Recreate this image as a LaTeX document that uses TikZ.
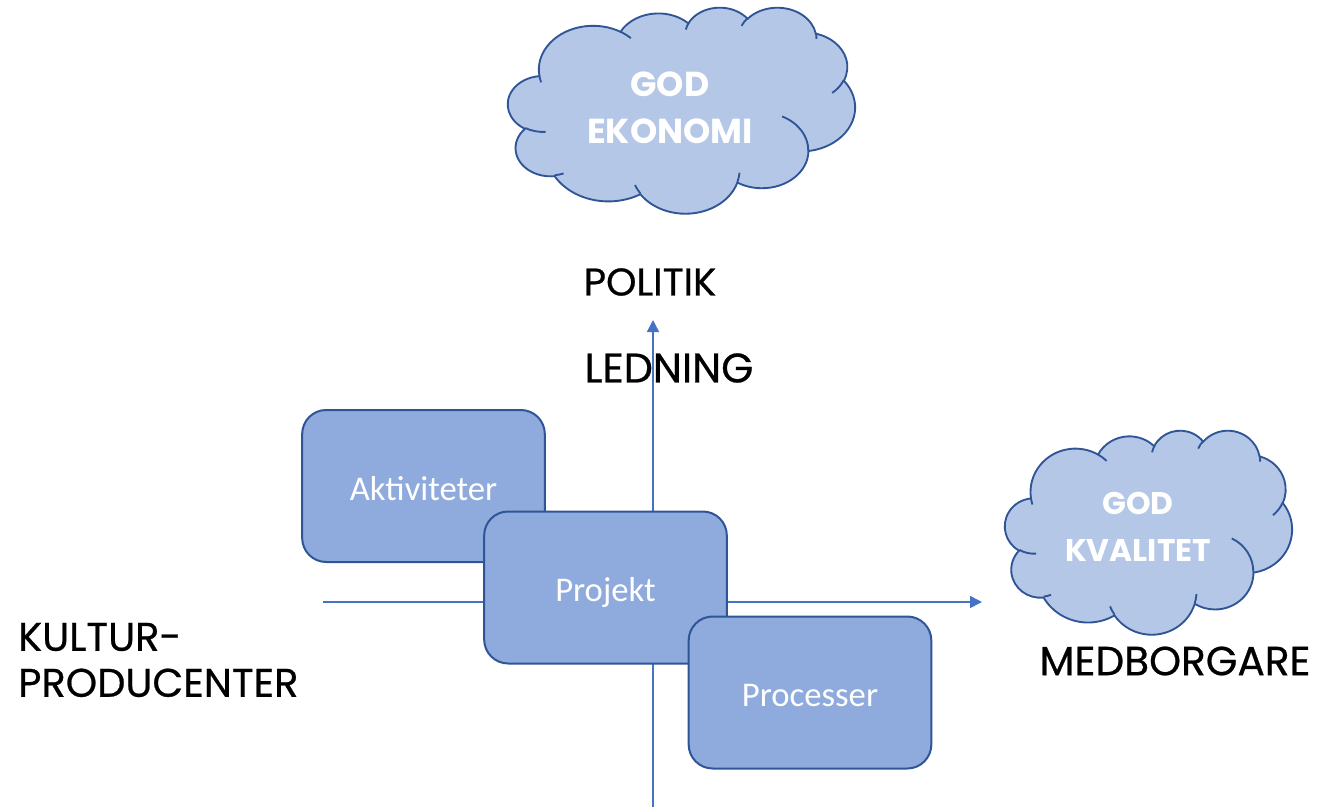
\documentclass[tikz,border=0pt]{standalone}
\usepackage{fontspec}
\newfontfamily\labelfont[FakeBold=0.6]{Poppins}
\newfontfamily\cloudfont{Poppins}
\newfontfamily\boxfont{Carlito}
\usetikzlibrary{arrows.meta}

\definecolor{cloudfill}{HTML}{B4C7E7}
\definecolor{boxfill}{HTML}{8FAADC}
\definecolor{edgeblue}{HTML}{2F5597}
\definecolor{axisblue}{HTML}{4472C4}

% one puff of the cloud: x radius, y radius, start and sweep angle (seen on the ellipse)
\newcommand\puff[4]{\pgfextra{%
  \pgfmathsetmacro\puffa{atan2(sin(#3)*#1,cos(#3)*#2)}%
  \pgfmathsetmacro\puffb{atan2(sin(#3+#4)*#1,cos(#3+#4)*#2)}%
  \pgfmathsetmacro\puffb{\puffb+(#4>0)*(\puffb<\puffa)*360-(#4<0)*(\puffb>\puffa)*360}}
  arc[start angle=\puffa, end angle=\puffb, x radius=#1, y radius=#2]}

\newcommand\cloudoutline{(39.00,143.70)
  \puff{67.53}{91.90}{-190.4875}{123.7805} \puff{53.33}{72.67}{-144.1024}{89.9452}
  \puff{43.65}{59.45}{-145.8079}{99.7230} \puff{48.57}{65.95}{-130.9861}{117.2417}
  \puff{53.33}{72.73}{-78.7089}{109.0269} \puff{67.75}{92.20}{-46.2673}{130.2690}
  \puff{57.85}{78.67}{0.6250}{114.0333} \puff{67.52}{92.15}{22.4516}{115.1726}
  \puff{77.20}{105.43}{66.2426}{75.7110} \puff{43.60}{59.18}{-274.9421}{146.7356}
  \puff{43.45}{59.45}{-246.8285}{152.5189} -- cycle}

\newcommand\cloudcreases{%
  (46.93,261.77) \puff{43.45}{59.45}{86.7420}{26.4295}
  (69.28,348.99) \puff{43.60}{59.18}{73.6105}{11.4475}
  (164.78,390.90) \puff{67.52}{92.15}{137.6242}{14.0811}
  (288.27,347.51) \puff{67.52}{92.15}{6.4533}{15.9984}
  (341.29,229.54) \puff{57.85}{78.67}{-70.2924}{70.9174}
  (417.98,153.54) \puff{53.33}{72.73}{30.3180}{27.7515}
  (383.24,54.26) \puff{48.57}{65.95}{-13.7443}{14.8589}
  (290.78,39.52) \puff{48.57}{65.95}{-149.1815}{18.1954}
  (221.41,47.20) \puff{43.65}{59.45}{-163.4943}{17.6864}
  (140.00,51.92) \puff{67.53}{91.90}{-66.7070}{12.3194}
  (41.27,157.89) \puff{67.53}{91.90}{157.6544}{11.8582}}

% cloud in the frame at (#1,#2), units #3 and #4 per 1/432 of the frame
\newcommand\cloudshape[4]{%
  \begin{scope}[shift={(#1,#2)}, x=#3, y=-#4]
    \filldraw[cloudline, fill=cloudfill] \cloudoutline;
    \draw[cloudline] \cloudcreases;
  \end{scope}}

\begin{document}
\begin{tikzpicture}[
  x=0.75pt, y=-0.75pt,
  axis/.style={-{Triangle[length=9pt,width=9pt]}, draw=axisblue, line width=1.1pt},
  boxnode/.style={rectangle, rounded corners=18pt, draw=edgeblue, line width=1.5pt,
    fill=boxfill, minimum width=182pt, minimum height=114pt, text=white,
    text height=24pt, text depth=3pt, font=\boxfont\fontsize{26}{30}\selectfont},
  cloudline/.style={draw=edgeblue, line width=1.4pt},
  cloudtext/.style={text=white, align=center, inner sep=0pt},
  axislabel/.style={inner sep=0pt}
]
\useasboundingbox (0,0) rectangle (1318,807);

% clouds
\cloudshape{508}{7}{0.60243pt}{0.35764pt}
\node[cloudtext, font=\cloudfont\bfseries\fontsize{26}{35}\selectfont] (economy) at (670,108) {GOD\\EKONOMI};
\cloudshape{1005}{430}{0.49826pt}{0.35417pt}
\node[cloudtext, font=\cloudfont\bfseries\fontsize{23.5}{35}\selectfont] (quality) at (1138,527) {GOD\\KVALITET};

% axis labels
\node[axislabel, font=\labelfont\fontsize{29}{34}\selectfont] (politics) at (650,282) {POLITIK};
\node[axislabel, font=\labelfont\fontsize{31}{36}\selectfont] (management) at (669,368) {LEDNING};
\node[axislabel, align=left, anchor=west, font=\labelfont\fontsize{30}{34.5}\selectfont] (producers) at (18,660) {KULTUR-\\PRODUCENTER};
\node[axislabel, font=\labelfont\fontsize{30.5}{36}\selectfont] (citizens) at (1175,661) {MEDBORGARE};

% axes
\coordinate (vbot) at (653,807);
\coordinate (vtop) at (653,320);
\coordinate (hleft) at (323,602);
\coordinate (hright) at (982,602);
\draw[axis] (vbot) -- (vtop);
\draw[axis] (hleft) -- (hright);

% boxes
\node[boxnode] (activities) at (423.5,486) {Aktiviteter};
\node[boxnode] (project) at (605.5,587.5) {Projekt};
\node[boxnode] (processes) at (810,692.5) {Processer};

\end{tikzpicture}
\end{document}
